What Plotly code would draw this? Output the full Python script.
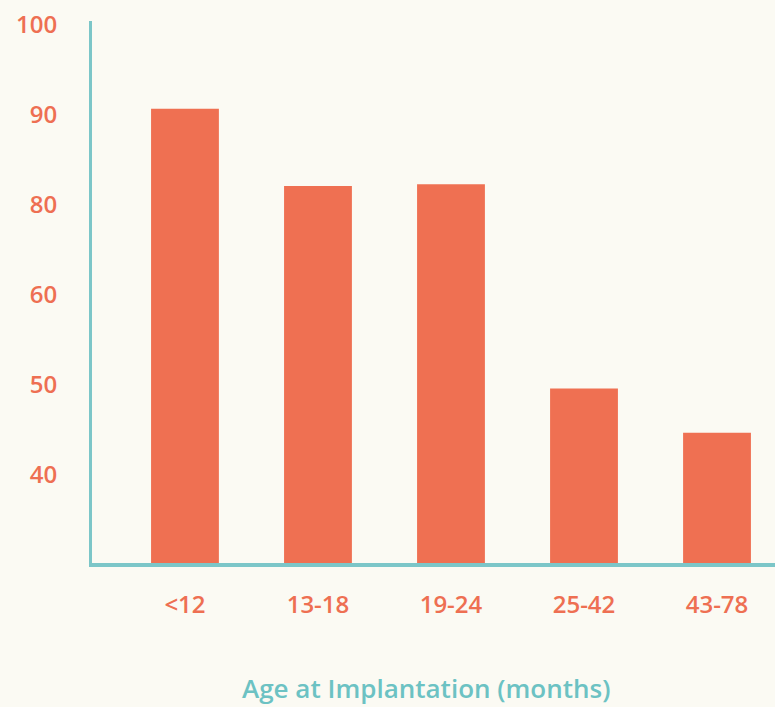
import numpy as np
import plotly.graph_objects as go

categories = ["<12", "13-18", "19-24", "25-42", "43-78"]
values = [90.7, 82.1, 82.3, 49.6, 44.7]
y_tick_labels = ["40", "50", "60", "80", "90", "100"]
y_tick_numbers = [40, 50, 60, 80, 90, 100]
x_title = "Age at Implantation (months)"

# the axis labels are evenly spaced; map values onto that label scale
y_positions = list(range(len(y_tick_labels)))
bar_pos = np.interp(values, y_tick_numbers, y_positions)
Y_MIN, Y_MAX = -0.978, 5.044

BAR = "#EF7052"
TEXT = "#EE6F52"
TEAL = "#7CC6C8"
TITLE = "#6CC2C3"
BG = "#FBFAF3"
FONT = "Open Sans"

fig = go.Figure()
fig.add_trace(go.Bar(
    x=list(range(len(categories))), y=bar_pos - Y_MIN, base=Y_MIN,
    marker=dict(color=BAR, line=dict(width=0)),
    width=0.51, hoverinfo="skip",
))

fig.update_layout(
    width=775, height=707,
    margin=dict(l=92, r=0, t=21, b=144),
    paper_bgcolor=BG, plot_bgcolor=BG,
    showlegend=False,
    font=dict(family=FONT, color=TEXT, size=24),
    xaxis=dict(
        range=[-0.699, 4.436],
        tickvals=list(range(len(categories))), ticktext=categories,
        showgrid=False, zeroline=False,
        showline=True, linecolor=TEAL, linewidth=3.5,
        ticks="", ticklabelstandoff=17,
        tickfont=dict(family=FONT, color=TEXT, size=24, weight=600),
    ),
    yaxis=dict(
        range=[Y_MIN, Y_MAX],
        tickvals=y_positions, ticktext=y_tick_labels,
        showgrid=False, zeroline=False,
        showline=True, linecolor=TEAL, linewidth=3,
        ticks="", ticklabelstandoff=27,
        tickfont=dict(family=FONT, color=TEXT, size=24, weight=600),
    ),
    annotations=[dict(
        text=x_title, xref="paper", yref="paper",
        x=(426 - 92) / 683, y=(563 - 688) / 542,
        xanchor="center", yanchor="middle", showarrow=False,
        font=dict(family=FONT, color=TITLE, size=26, weight=600),
    )],
)

fig.write_html(
    "out.html",
    config={"displayModeBar": False},
    post_script="document.body.style.margin='0';document.body.style.overflow='hidden';",
)
